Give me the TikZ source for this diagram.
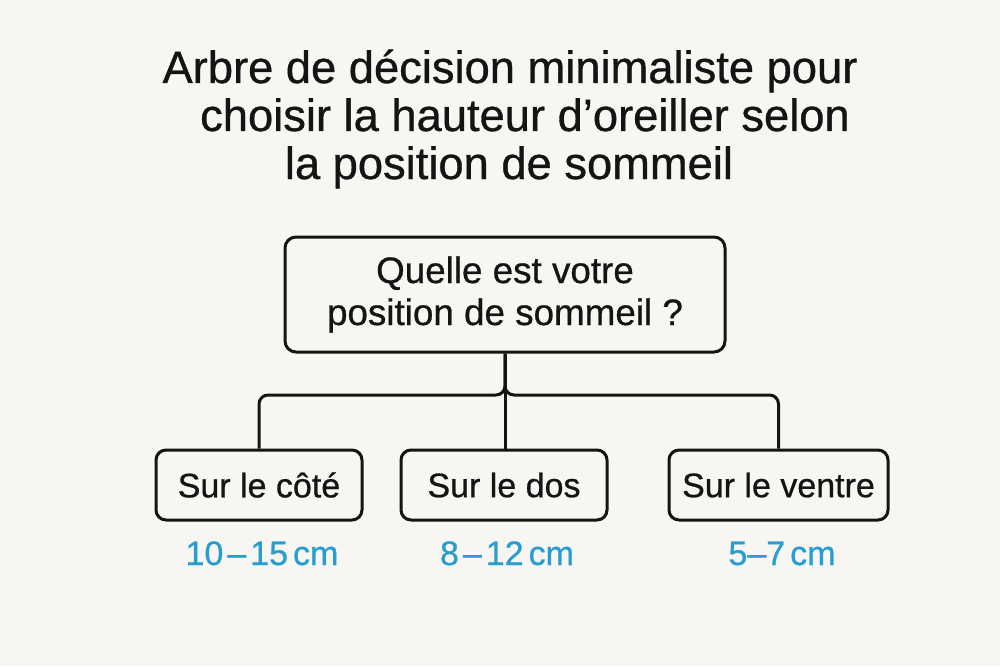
\documentclass[tikz,border=0pt]{standalone}
\usepackage{fontspec}
\setmainfont{Liberation Sans}[UprightFeatures={FakeBold=0.7}]
\definecolor{bg}{HTML}{F7F6F2}
\definecolor{ink}{HTML}{141414}
\definecolor{accent}{RGB}{42,157,207}
\begin{document}
\begin{tikzpicture}[x=1pt,y=-1pt,
  titletext/.style={anchor=base,text=ink,font=\fontsize{45.3}{48}\selectfont,inner sep=0},
  qbox/.style={draw=ink,line width=3,rounded corners=11,fill=bg,text=ink,align=center,
    font=\fontsize{36.8}{42}\selectfont,inner sep=0},
  abox/.style={draw=ink,line width=3,rounded corners=10,fill=bg,text=ink,
    font=\fontsize{34}{40}\selectfont,inner sep=0,minimum height=70},
  rangelabel/.style={anchor=base,text=accent,font=\fontsize{34}{40}\selectfont,inner sep=0},
  conn/.style={draw=ink,line width=3,rounded corners=9}]
\fill[bg] (0,0) rectangle (1000,666);
\useasboundingbox (0,0) rectangle (1000,666);
\node[titletext] (t1) at (510,83) {Arbre de décision minimaliste pour};
\node[titletext] (t2) at (525,131) {choisir la hauteur d’oreiller selon};
\node[titletext] (t3) at (509,179) {la position de sommeil};
\node[qbox,minimum width=440,minimum height=115] (q) at (505,294.5) {Quelle est votre\\position de sommeil ?};
\node[abox,minimum width=206] (a) at (259,485) {Sur le côté};
\node[abox,minimum width=206] (b) at (504,485) {Sur le dos};
\node[abox,minimum width=219] (c) at (778.5,485) {Sur le ventre};
\coordinate (j) at (505,395);
\draw[conn] (a.north) |- (j) -- (q.south);
\draw[conn] (c.north) |- (j) -- (q.south);
\draw[conn] (q.south) -- (j) -- (q.south |- b.north);
\node[rangelabel] (ra) at (262,565) {10\kern4pt–\kern4pt15\kern5pt cm};
\node[rangelabel] (rb) at (507,565) {8\kern4pt–\kern4pt12\kern5pt cm};
\node[rangelabel] (rc) at (782,565) {5–7\kern5pt cm};
\end{tikzpicture}
\end{document}
